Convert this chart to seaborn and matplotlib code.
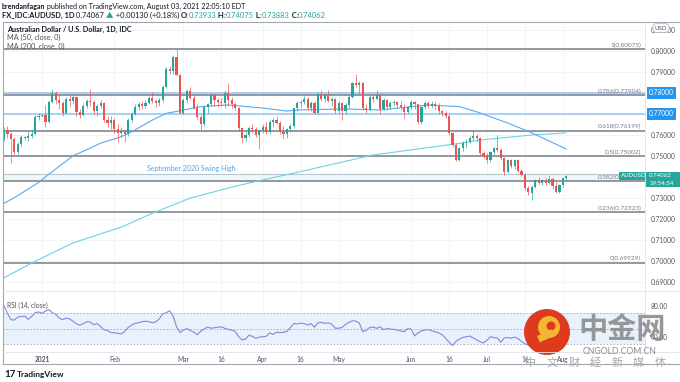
import numpy as np
import pandas as pd
import matplotlib
matplotlib.use("Agg")
import matplotlib.pyplot as plt
import seaborn as sns
from matplotlib.patches import Rectangle, Circle

sns.set_theme(style="white")
plt.rcParams['font.family'] = ['Lato', 'Noto Sans CJK SC', 'DejaVu Sans']

# ---- data ----
dates = pd.bdate_range("2020-12-17", "2021-08-03")

opens = [0.7580, 0.7625, 0.7605, 0.7580, 0.7520, 0.7555, 0.7590, 0.7584, 0.7595, 0.7605,
         0.7685, 0.7692, 0.7696, 0.7662, 0.7758, 0.7800, 0.7765, 0.7752, 0.7705, 0.7770,
         0.7760, 0.7780, 0.7710, 0.7695, 0.7740, 0.7760, 0.7755, 0.7715, 0.7740, 0.7750,
         0.7672, 0.7656, 0.7672, 0.7630, 0.7610, 0.7620, 0.7605, 0.7670, 0.7700, 0.7735,
         0.7745, 0.7740, 0.7750, 0.7775, 0.7760, 0.7750, 0.7765, 0.7830, 0.7915, 0.7905,
         0.7970, 0.7885, 0.7705, 0.7765, 0.7810, 0.7775, 0.7730, 0.7685, 0.7650, 0.7735,
         0.7745, 0.7790, 0.7765, 0.7755, 0.7750, 0.7800, 0.7765, 0.7745, 0.7730, 0.7632,
         0.7585, 0.7600, 0.7635, 0.7630, 0.7600, 0.7625, 0.7640, 0.7612, 0.7660, 0.7672,
         0.7658, 0.7612, 0.7605, 0.7630, 0.7645, 0.7727, 0.7750, 0.7758, 0.7770, 0.7730,
         0.7750, 0.7705, 0.7795, 0.7770, 0.7790, 0.7762, 0.7770, 0.7715, 0.7750, 0.7712,
         0.7743, 0.7782, 0.7846, 0.7838, 0.7845, 0.7727, 0.7722, 0.7782, 0.7772, 0.7792,
         0.7724, 0.7766, 0.7735, 0.7750, 0.7758, 0.7743, 0.7735, 0.7711, 0.7735, 0.7755,
         0.7745, 0.7660, 0.7735, 0.7751, 0.7740, 0.7745, 0.7740, 0.7715, 0.7705, 0.7690,
         0.7608, 0.7553, 0.7483, 0.7537, 0.7561, 0.7569, 0.7585, 0.7593, 0.7585, 0.7513,
         0.7502, 0.7480, 0.7520, 0.7537, 0.7530, 0.7489, 0.7425, 0.7481, 0.7452, 0.7480,
         0.7430, 0.7412, 0.7350, 0.7325, 0.7355, 0.7386, 0.7372, 0.7386, 0.7372, 0.7392,
         0.7358, 0.7330, 0.7362, 0.73933]
highs = [0.7640, 0.7642, 0.7615, 0.7590, 0.7565, 0.7600, 0.7596, 0.7615, 0.7625, 0.7695,
         0.7705, 0.7702, 0.7742, 0.7765, 0.7820, 0.7810, 0.7790, 0.7760, 0.7780, 0.7790,
         0.7795, 0.7786, 0.7725, 0.7750, 0.7770, 0.7820, 0.7765, 0.7745, 0.7765, 0.7755,
         0.7690, 0.7690, 0.7680, 0.7650, 0.7640, 0.7625, 0.7680, 0.7710, 0.7745, 0.7755,
         0.7760, 0.7765, 0.7785, 0.7805, 0.7770, 0.7775, 0.7840, 0.7925, 0.7930, 0.7980,
         0.8007, 0.7890, 0.7775, 0.7820, 0.7830, 0.7790, 0.7745, 0.7700, 0.7740, 0.7750,
         0.7800, 0.7795, 0.7775, 0.7775, 0.7815, 0.7849, 0.7780, 0.7755, 0.7735, 0.7640,
         0.7615, 0.7645, 0.7650, 0.7640, 0.7630, 0.7650, 0.7660, 0.7670, 0.7680, 0.7690,
         0.7665, 0.7645, 0.7635, 0.7650, 0.7735, 0.7760, 0.7765, 0.7785, 0.7780, 0.7760,
         0.7760, 0.7805, 0.7815, 0.7800, 0.7815, 0.7780, 0.7775, 0.7760, 0.7755, 0.7750,
         0.7790, 0.7850, 0.7891, 0.7855, 0.7850, 0.7745, 0.7790, 0.7795, 0.7815, 0.7800,
         0.7775, 0.7770, 0.7760, 0.7765, 0.7762, 0.7760, 0.7745, 0.7740, 0.7765, 0.7760,
         0.7750, 0.7740, 0.7760, 0.7760, 0.7760, 0.7760, 0.7750, 0.7720, 0.7715, 0.7700,
         0.7615, 0.7560, 0.7545, 0.7570, 0.7580, 0.7595, 0.7624, 0.7605, 0.7590, 0.7525,
         0.7512, 0.7525, 0.7545, 0.7600, 0.7540, 0.7495, 0.7485, 0.7488, 0.7485, 0.7488,
         0.7440, 0.7418, 0.7358, 0.7360, 0.7392, 0.7398, 0.7392, 0.7395, 0.7410, 0.7398,
         0.7385, 0.7368, 0.7398, 0.74075]
lows = [0.7570, 0.7585, 0.7465, 0.7505, 0.7510, 0.7548, 0.7575, 0.7570, 0.7585, 0.7600,
        0.7670, 0.7684, 0.7640, 0.7655, 0.7750, 0.7745, 0.7725, 0.7690, 0.7700, 0.7740,
        0.7745, 0.7690, 0.7680, 0.7690, 0.7730, 0.7740, 0.7700, 0.7690, 0.7730, 0.7660,
        0.7640, 0.7630, 0.7610, 0.7568, 0.7590, 0.7565, 0.7595, 0.7660, 0.7695, 0.7720,
        0.7725, 0.7730, 0.7745, 0.7750, 0.7735, 0.7740, 0.7755, 0.7825, 0.7890, 0.7890,
        0.7880, 0.7700, 0.7700, 0.7750, 0.7770, 0.7725, 0.7675, 0.7625, 0.7645, 0.7705,
        0.7740, 0.7740, 0.7735, 0.7740, 0.7730, 0.7740, 0.7730, 0.7720, 0.7620, 0.7563,
        0.7570, 0.7590, 0.7610, 0.7590, 0.7532, 0.7610, 0.7605, 0.7605, 0.7640, 0.7650,
        0.7605, 0.7580, 0.7585, 0.7615, 0.7635, 0.7715, 0.7735, 0.7745, 0.7720, 0.7715,
        0.7700, 0.7700, 0.7760, 0.7755, 0.7755, 0.7740, 0.7705, 0.7705, 0.7673, 0.7700,
        0.7730, 0.7775, 0.7830, 0.7800, 0.7720, 0.7705, 0.7715, 0.7755, 0.7765, 0.7700,
        0.7720, 0.7720, 0.7725, 0.7740, 0.7730, 0.7720, 0.7680, 0.7705, 0.7725, 0.7725,
        0.7650, 0.7650, 0.7725, 0.7730, 0.7730, 0.7720, 0.7700, 0.7690, 0.7680, 0.7600,
        0.7545, 0.7477, 0.7475, 0.7525, 0.7540, 0.7560, 0.7575, 0.7570, 0.7505, 0.7490,
        0.7465, 0.7470, 0.7510, 0.7520, 0.7480, 0.7410, 0.7420, 0.7445, 0.7440, 0.7425,
        0.7405, 0.7340, 0.7315, 0.7289, 0.7348, 0.7365, 0.7360, 0.7362, 0.7365, 0.7345,
        0.7325, 0.7322, 0.7355, 0.73883]
closes = [0.7625, 0.7605, 0.7580, 0.7520, 0.7555, 0.7590, 0.7584, 0.7595, 0.7605, 0.7685,
          0.7692, 0.7696, 0.7662, 0.7758, 0.7800, 0.7765, 0.7752, 0.7705, 0.7770, 0.7760,
          0.7780, 0.7710, 0.7695, 0.7740, 0.7760, 0.7755, 0.7715, 0.7740, 0.7750, 0.7672,
          0.7656, 0.7672, 0.7630, 0.7610, 0.7620, 0.7605, 0.7670, 0.7700, 0.7735, 0.7745,
          0.7740, 0.7750, 0.7775, 0.7760, 0.7750, 0.7765, 0.7830, 0.7915, 0.7905, 0.7970,
          0.7885, 0.7705, 0.7765, 0.7810, 0.7775, 0.7730, 0.7685, 0.7650, 0.7735, 0.7745,
          0.7790, 0.7765, 0.7755, 0.7750, 0.7800, 0.7765, 0.7745, 0.7730, 0.7632, 0.7585,
          0.7600, 0.7635, 0.7630, 0.7600, 0.7625, 0.7640, 0.7612, 0.7660, 0.7672, 0.7658,
          0.7612, 0.7605, 0.7630, 0.7645, 0.7727, 0.7750, 0.7758, 0.7770, 0.7730, 0.7750,
          0.7705, 0.7795, 0.7770, 0.7790, 0.7762, 0.7770, 0.7715, 0.7750, 0.7712, 0.7743,
          0.7782, 0.7846, 0.7838, 0.7845, 0.7727, 0.7722, 0.7782, 0.7772, 0.7792, 0.7724,
          0.7766, 0.7735, 0.7750, 0.7758, 0.7743, 0.7735, 0.7711, 0.7735, 0.7755, 0.7745,
          0.7660, 0.7735, 0.7751, 0.7740, 0.7745, 0.7740, 0.7715, 0.7705, 0.7690, 0.7608,
          0.7553, 0.7483, 0.7537, 0.7561, 0.7569, 0.7585, 0.7593, 0.7585, 0.7513, 0.7502,
          0.7480, 0.7520, 0.7537, 0.7530, 0.7489, 0.7425, 0.7481, 0.7452, 0.7480, 0.7430,
          0.7412, 0.7350, 0.7330, 0.7355, 0.7386, 0.7372, 0.7386, 0.7372, 0.7392, 0.7358,
          0.7330, 0.7362, 0.7394, 0.74062]

ma50_dates = ["2020-12-17", "2020-12-22", "2020-12-31", "2021-01-05", "2021-01-14", "2021-01-19",
              "2021-01-26", "2021-02-03", "2021-02-08", "2021-02-16", "2021-02-22", "2021-02-26",
              "2021-03-08", "2021-03-18", "2021-04-01", "2021-04-12", "2021-04-15", "2021-05-05",
              "2021-05-19", "2021-06-08", "2021-06-14", "2021-06-21", "2021-06-29", "2021-07-09",
              "2021-07-20", "2021-08-03"]
ma50_vals = [0.7275, 0.7302, 0.7374, 0.7414, 0.7501, 0.7523, 0.7561, 0.7592, 0.7615, 0.7671,
             0.7703, 0.7715, 0.7735, 0.7743, 0.7728, 0.7714, 0.7719, 0.7724, 0.7719, 0.7743,
             0.7739, 0.7735, 0.7705, 0.7657, 0.7610, 0.7533]

ma200_dates = ["2020-12-17", "2020-12-29", "2021-01-14", "2021-02-03", "2021-02-16", "2021-03-03",
               "2021-03-19", "2021-03-31", "2021-04-16", "2021-05-17", "2021-06-01", "2021-06-21",
               "2021-06-29", "2021-07-20", "2021-08-03"]
ma200_vals = [0.6921, 0.6991, 0.7087, 0.7162, 0.7228, 0.7300, 0.7352, 0.7383, 0.7426, 0.7505,
              0.7529, 0.7560, 0.7576, 0.7600, 0.7610]

rsi_vals = [80, 70, 62, 61.5, 65.5, 66, 66.7, 62.4, 66, 71,
            72, 70.2, 73, 75, 71, 69, 64, 62, 64, 63,
            60, 56.5, 55, 57, 59.4, 59, 55.5, 57, 53, 49,
            48, 45.5, 45, 44.4, 43.5, 47, 52, 55, 57.3, 58,
            59.3, 60, 59.5, 58.1, 59.2, 63, 69.5, 71, 73.5, 67,
            53, 45.5, 48.6, 50.5, 48, 46, 42.5, 47, 50, 52.5,
            51, 51.5, 52.3, 52.7, 50.8, 49.5, 48.5, 47, 40, 35.9,
            37, 42, 40.5, 38, 39.5, 40, 40.5, 45, 43, 46,
            45.2, 46, 46.8, 52, 57, 56.5, 57.5, 57, 55, 57,
            52.3, 58, 58.5, 57.3, 58, 56, 51, 51, 52, 56,
            58.5, 60.6, 60.2, 57.5, 46.5, 48.3, 52, 52.5, 50.8, 52.9,
            49, 50.5, 50, 49.3, 48.7, 47.5, 46.5, 50.5, 50, 41,
            45, 47.5, 48.6, 49.3, 47.5, 46.5, 45, 42.5, 38, 33,
            28.5, 34, 37, 39.1, 40, 40.9, 38.5, 36, 33.6, 32,
            35.5, 40, 38.7, 38.5, 33, 38.5, 39, 38, 39.7, 37.5,
            34, 31, 29, 28, 33, 37, 36, 38, 37.5, 39,
            35, 34, 38, 41]

fib_ratios = ["1", "0.786", "0.618", "0.5", "0.382", "0.236", "0"]
fib_levels = [0.80075, 0.77904, 0.76199, 0.75002, 0.73805, 0.72323, 0.69929]
blue_levels = [0.78, 0.77]
swing_high = 0.7414

tick_dates = ["2021-01-01", "2021-02-01", "2021-03-01", "2021-03-16", "2021-04-01", "2021-04-16",
              "2021-05-03", "2021-06-01", "2021-06-16", "2021-07-01", "2021-07-16", "2021-08-02"]
tick_labels = ["2021", "Feb", "Mar", "16", "Apr", "16", "May", "Jun", "16", "Jul", "16", "Aug"]
price_ticks = [0.69, 0.70, 0.71, 0.72, 0.73, 0.74, 0.75, 0.76, 0.77, 0.78, 0.79, 0.80, 0.81]
hidden_ticks = [0.74, 0.77, 0.78]   # covered by tags on the price scale
rsi_ticks = [40, 80]

TEAL, RED = '#26a69a', '#ef5350'
TXT, GREY = '#131722', '#50535e'

# ---- layout in pixels ----
W, H = 680, 382
fig = plt.figure(figsize=(6.8, 3.82), dpi=100)
def box(x0, y0, x1, y1):
    return [x0 / W, 1 - y1 / H, (x1 - x0) / W, (y1 - y0) / H]

ax = fig.add_axes(box(3, 22, 645, 290))
axr = fig.add_axes(box(3, 290, 645, 352))
ov = fig.add_axes([0, 0, 1, 1], zorder=10)
ov.set_xlim(0, W)
ov.set_ylim(H, 0)
ov.axis('off')
ov.patch.set_alpha(0)

xi = np.arange(len(dates))
tick_pos = dates.get_indexer(pd.to_datetime(tick_dates))
for a in (ax, axr):
    a.set_xlim(-0.3, 185.8)
    for s in a.spines.values():
        s.set_visible(False)
    for p in tick_pos:
        a.axvline(p, color='#f1f2f6', lw=0.6, zorder=0)

ax.set_ylim(0.68629, 0.81373)
for p in price_ticks:
    ax.axhline(p, color='#f1f2f6', lw=0.6, zorder=0)

# levels
ax.axhspan(0.7381, swing_high, color='#eef8fb', zorder=1, lw=0)
ax.axhline(swing_high, color='#b7c6cf', lw=0.8, zorder=1)
ax.axhspan(0.7790, 0.7800, color='#e6f2fd', zorder=1, lw=0)
for lv in blue_levels:
    ax.axhline(lv, color='#9fcdf7', lw=1.3, zorder=1)
for r, lv in zip(fib_ratios, fib_levels):
    ax.axhline(lv, color='#8d9099', lw=1.3, zorder=2)
    ax.text(0.9938, lv + 0.0006, f"{r}({lv:.5f})", transform=ax.get_yaxis_transform(),
            ha='right', va='bottom', fontsize=4.6, color='#787b86')
ax.text(0.293, swing_high + 0.0012, "September 2020 Swing High", transform=ax.get_yaxis_transform(),
        ha='center', va='bottom', fontsize=5, color='#42a5f5')

# moving averages
sns.lineplot(x=dates.get_indexer(pd.to_datetime(ma200_dates)), y=ma200_vals, ax=ax,
             color='#6ad3e3', lw=0.8, zorder=3)
sns.lineplot(x=dates.get_indexer(pd.to_datetime(ma50_dates)), y=ma50_vals, ax=ax,
             color='#5aa9f0', lw=0.8, zorder=3)

# candles
o, h, l, c = map(np.array, (opens, highs, lows, closes))
col = np.where(c >= o, TEAL, RED)
ax.vlines(xi, l, h, colors=col, lw=0.6, zorder=4, alpha=0.8)
ax.bar(xi, np.maximum(np.abs(c - o), 0.00025), bottom=np.minimum(o, c), width=0.62,
       color=col, lw=0, zorder=5)

ax.yaxis.tick_right()
ax.set_yticks(price_ticks)
ax.set_yticklabels(["" if p in hidden_ticks else f"{p:.5f}" for p in price_ticks])
ax.tick_params(axis='y', length=0, pad=4, labelsize=4.8, labelcolor=GREY)
ax.set_xticks([])
ax.set_xlabel("")
ax.set_ylabel("")

# blue axis tags
for lv in blue_levels:
    ax.text(1.006, lv, f"{lv:.5f}", transform=ax.get_yaxis_transform(), ha='left', va='center',
            fontsize=4.8, color='white', zorder=20, clip_on=False,
            bbox=dict(boxstyle='square,pad=0.35', fc='#2196f3', ec='none'))

# RSI pane
axr.set_ylim(20.3, 100.3)
axr.axhspan(30, 70, color='#e9f1fd', lw=0, zorder=1)
for v in (70, 50, 30):
    axr.axhline(v, color='#a4a9b6', lw=0.6, ls=(0, (2, 2)), zorder=2)
sns.lineplot(x=xi, y=rsi_vals, ax=axr, color='#8388d8', lw=0.8, zorder=3)
axr.yaxis.tick_right()
axr.set_yticks(rsi_ticks)
axr.set_yticklabels([f"{v:.2f}" for v in rsi_ticks])
axr.tick_params(axis='y', length=0, pad=4, labelsize=4.8, labelcolor=GREY)
axr.set_xticks(tick_pos)
axr.set_xticklabels(tick_labels)
axr.tick_params(axis='x', length=0, pad=3, labelsize=4.8, labelcolor=GREY)
axr.get_xticklabels()[0].set_fontweight('bold')
axr.set_xlabel("")
axr.set_ylabel("")
axr.text(0.006, 80, "RSI (14, close)", transform=axr.get_yaxis_transform(), ha='left',
         va='center', fontsize=4.8, color=GREY)

# frame
ov.plot([3, 680], [22, 22], color='#a3a6af', lw=0.8)
ov.plot([3, 3], [22, 364], color='#a3a6af', lw=0.8)
ov.plot([3, 680], [364, 364], color='#a3a6af', lw=0.8)
ov.plot([3, 680], [290.5, 290.5], color='#e0e3eb', lw=0.6)
ov.plot([3, 680], [352, 352], color='#e0e3eb', lw=0.6)
ov.plot([645, 645], [22, 352], color='#e0e3eb', lw=0.6)

# header text runs
fig.canvas.draw()
rend = fig.canvas.get_renderer()
def runs(x, y, parts, size):
    for txt, color, weight in parts:
        t = ov.text(x, y, txt, color=color, fontsize=size, fontweight=weight, ha='left', va='center')
        x += t.get_window_extent(renderer=rend).width

runs(2, 6.5, [("brendanfagan", TXT, 'bold'),
              (" published on TradingView.com, August 03, 2021 22:05:10 EDT", TXT, 'normal')], 5.1)
runs(2, 15.5, [("FX_IDC:AUDUSD, 1D", TXT, 'bold'), (" 0.74067 ", TXT, 'normal'),
               ("\u25b2", TEAL, 'normal'), (" +0.00130 (+0.18%) ", TXT, 'normal'),
               ("O:", TXT, 'bold'), ("0.73933", TEAL, 'normal'), (" H:", TXT, 'bold'),
               ("0.74075", TEAL, 'normal'), (" L:", TXT, 'bold'), ("0.73883", TEAL, 'normal'),
               (" C:", TXT, 'bold'), ("0.74062", TEAL, 'normal')], 5.4)
ov.text(7, 29, "Australian Dollar / U.S. Dollar, 1D, IDC", fontsize=5.2, fontweight='bold',
        color=TXT, va='center')
ov.text(7, 37.5, "MA (50, close, 0)", fontsize=5.2, color=GREY, va='center')
ov.text(7, 46, "MA (200, close, 0)", fontsize=5.2, color=GREY, va='center')

# USD tag
ov.text(661, 28, "USD", fontsize=4.4, color=GREY, ha='center', va='center',
        bbox=dict(boxstyle='round,pad=0.3,rounding_size=0.6', fc='white', ec='#b2b5be', lw=0.6))

# last price tag
ov.add_patch(Rectangle((619, 172), 61, 7.5, fc=TEAL, ec='none'))
ov.add_patch(Rectangle((645, 179.5), 35, 7.5, fc=TEAL, ec='none'))
ov.text(621, 175.8, "AUDUSD", fontsize=4.4, color='white', va='center')
ov.text(649, 175.8, "0.74062", fontsize=4.4, color='white', va='center')
ov.text(649, 183.3, "19:54:54", fontsize=4.4, color='white', va='center')

# TradingView logo text
ov.text(4, 374.5, "17", fontsize=7, fontweight='bold', color=TXT, va='center')
ov.text(17, 374.5, "TradingView", fontsize=6, fontweight='bold', color=TXT, va='center')

# watermark
ov.add_patch(Circle((547, 332), 23, fc='#dd3a1e', ec='none'))
ov.add_patch(Circle((549, 327), 11, fc='#f6b632', ec='none'))
ov.add_patch(Circle((551, 326), 4.5, fc='#dd3a1e', ec='none'))
ov.add_patch(Rectangle((537, 336), 16, 7, angle=-25, fc='#f6b632', ec='none'))
ov.text(622, 329, "中金网", fontsize=21, fontweight='bold', color='#8c8c8c', alpha=0.9,
        ha='center', va='center', family=['Noto Sans CJK SC'])
ov.text(620, 351, "CNGOLD.COM.CN", fontsize=6.3, color='#8c8c8c', ha='center', va='center')
for k, ch in enumerate("中文财经新媒体"):
    ov.text(531 + 21.5 * k, 363, ch, fontsize=8, color='#a8a8a8', ha='center', va='center',
            family=['Noto Sans CJK SC'])

fig.savefig("out.png", dpi=100)
